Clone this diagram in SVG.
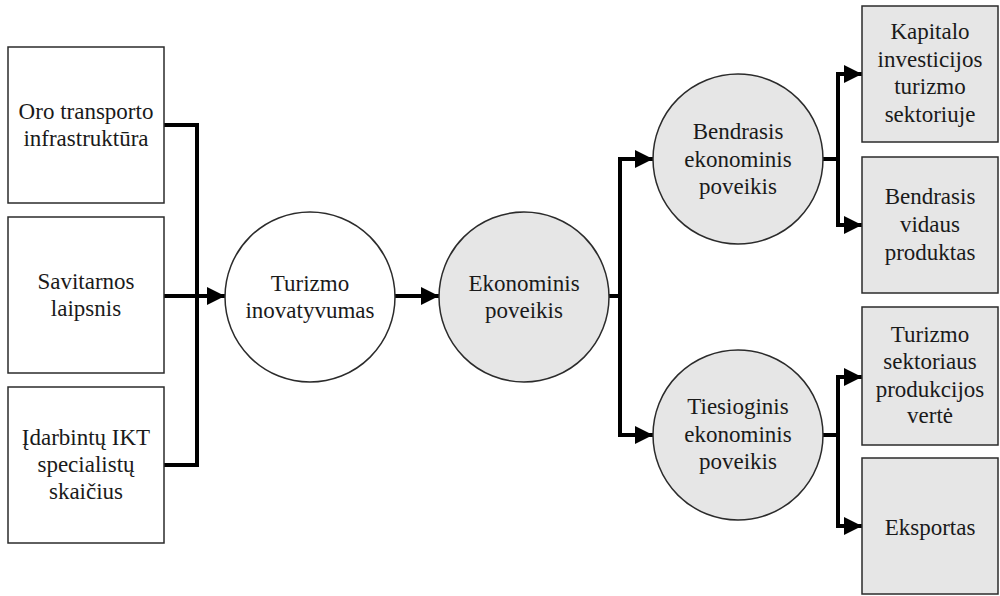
<svg xmlns="http://www.w3.org/2000/svg" width="1000" height="596" viewBox="0 0 1000 596">
  <style>
    .box { fill: #ffffff; stroke: #2b2b2b; stroke-width: 1.5; }
    .grey { fill: #e6e6e6; }
    .lbl { font-family: 'Liberation Serif', 'Tinos', 'DejaVu Serif', serif; font-size: 23px; fill: #1a1a1a; text-anchor: middle; }
    .wire { fill: none; stroke: #000000; stroke-width: 4; stroke-linejoin: miter; stroke-linecap: butt; }
  </style>
  <defs>
    <marker id="arrow" markerUnits="userSpaceOnUse" markerWidth="20" markerHeight="20" refX="18" refY="9" orient="auto">
      <path d="M0,0 L18,9 L0,18 Z" fill="#000000"/>
    </marker>
  </defs>
  <rect width="1000" height="596" fill="#ffffff"/>

  <!-- connectors -->
  <g id="connectors">
    <path class="wire" d="M164,125 H197 V465 H164"/>
    <path class="wire" d="M164,296 H225" marker-end="url(#arrow)"/>
    <path class="wire" d="M395,296 H439" marker-end="url(#arrow)"/>
    <path class="wire" d="M609,296 H620 V159 H653" marker-end="url(#arrow)"/>
    <path class="wire" d="M620,296 V435 H653" marker-end="url(#arrow)"/>
    <path class="wire" d="M823,159 H838 V74 H862" marker-end="url(#arrow)"/>
    <path class="wire" d="M838,159 V225 H862" marker-end="url(#arrow)"/>
    <path class="wire" d="M823,435 H838 V377 H862" marker-end="url(#arrow)"/>
    <path class="wire" d="M838,435 V526 H862" marker-end="url(#arrow)"/>
  </g>

  <!-- input factors -->
  <g id="oro-transportas">
    <rect class="box" x="8" y="47" width="156" height="156"/>
    <text class="lbl" x="86" y="119">Oro transporto</text>
    <text class="lbl" x="86" y="146">infrastruktūra</text>
  </g>
  <g id="savitarna">
    <rect class="box" x="8" y="217" width="156" height="156"/>
    <text class="lbl" x="86" y="289">Savitarnos</text>
    <text class="lbl" x="86" y="316">laipsnis</text>
  </g>
  <g id="ikt-specialistai">
    <rect class="box" x="8" y="387" width="156" height="156"/>
    <text class="lbl" x="86" y="445">Įdarbintų IKT</text>
    <text class="lbl" x="86" y="472">specialistų</text>
    <text class="lbl" x="86" y="499">skaičius</text>
  </g>

  <!-- central chain -->
  <g id="turizmo-inovatyvumas">
    <circle class="box" cx="310" cy="297" r="85"/>
    <text class="lbl" x="310" y="291">Turizmo</text>
    <text class="lbl" x="310" y="318">inovatyvumas</text>
  </g>
  <g id="ekonominis-poveikis">
    <circle class="box grey" cx="524" cy="297" r="85"/>
    <text class="lbl" x="524" y="291">Ekonominis</text>
    <text class="lbl" x="524" y="318">poveikis</text>
  </g>
  <g id="bendrasis-poveikis">
    <circle class="box grey" cx="738" cy="159" r="85"/>
    <text class="lbl" x="738" y="139">Bendrasis</text>
    <text class="lbl" x="738" y="167">ekonominis</text>
    <text class="lbl" x="738" y="194">poveikis</text>
  </g>
  <g id="tiesioginis-poveikis">
    <circle class="box grey" cx="738" cy="435" r="85"/>
    <text class="lbl" x="738" y="414">Tiesioginis</text>
    <text class="lbl" x="738" y="442">ekonominis</text>
    <text class="lbl" x="738" y="469">poveikis</text>
  </g>

  <!-- outcome indicators -->
  <g id="kapitalo-investicijos">
    <rect class="box grey" x="862" y="6" width="136" height="136"/>
    <text class="lbl" x="930" y="39">Kapitalo</text>
    <text class="lbl" x="930" y="67">investicijos</text>
    <text class="lbl" x="930" y="94">turizmo</text>
    <text class="lbl" x="930" y="122">sektoriuje</text>
  </g>
  <g id="bvp">
    <rect class="box grey" x="862" y="157" width="136" height="136"/>
    <text class="lbl" x="930" y="204">Bendrasis</text>
    <text class="lbl" x="930" y="232">vidaus</text>
    <text class="lbl" x="930" y="260">produktas</text>
  </g>
  <g id="produkcijos-verte">
    <rect class="box grey" x="862" y="307" width="136" height="138"/>
    <text class="lbl" x="930" y="342">Turizmo</text>
    <text class="lbl" x="930" y="369">sektoriaus</text>
    <text class="lbl" x="930" y="397">produkcijos</text>
    <text class="lbl" x="930" y="423">vertė</text>
  </g>
  <g id="eksportas">
    <rect class="box grey" x="862" y="458" width="136" height="136"/>
    <text class="lbl" x="930" y="535">Eksportas</text>
  </g>
</svg>
